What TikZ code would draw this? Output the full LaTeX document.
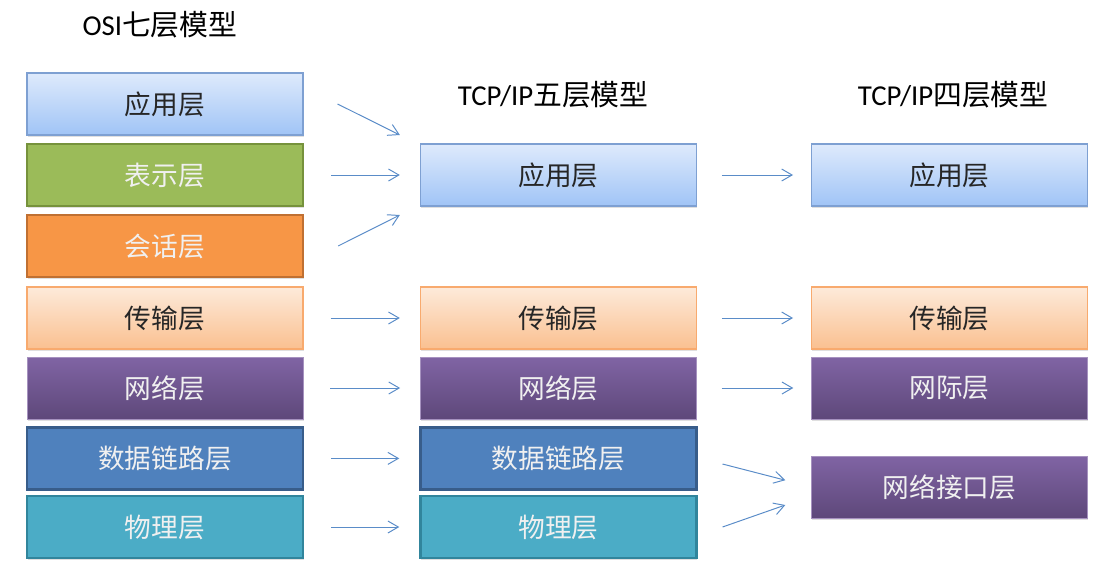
\documentclass[tikz,border=0pt]{standalone}
\usepackage{fontspec}
\setmainfont{Noto Sans CJK SC}
\newfontfamily\latinf{Carlito}
\usetikzlibrary{arrows.meta,positioning,calc,shadows}
\definecolor{appT}{RGB}{222,234,252}
\definecolor{appB}{RGB}{160,196,246}
\definecolor{appD}{RGB}{126,160,210}
\definecolor{preF}{RGB}{155,187,89}
\definecolor{preD}{RGB}{118,146,60}
\definecolor{sesF}{RGB}{247,150,70}
\definecolor{sesD}{RGB}{192,112,50}
\definecolor{traT}{RGB}{253,234,218}
\definecolor{traB}{RGB}{250,192,144}
\definecolor{traD}{RGB}{248,170,110}
\definecolor{netT}{RGB}{128,100,164}
\definecolor{netB}{RGB}{94,72,122}
\definecolor{dlkF}{RGB}{79,129,189}
\definecolor{dlkD}{RGB}{56,93,138}
\definecolor{phyF}{RGB}{75,172,198}
\definecolor{phyD}{RGB}{49,133,156}
\definecolor{arrC}{RGB}{90,140,200}

\begin{document}
\begin{tikzpicture}[>={Straight Barb[length=2.6mm,width=3mm]},
  layer/.style={rectangle, minimum width=6.9cm, minimum height=1.55cm, inner sep=0pt,
                font=\fontsize{19}{22}\selectfont, text=white!94!black,
                drop shadow={opacity=0.25, shadow xshift=0.6pt, shadow yshift=-1.2pt}},
  appl/.style={layer, draw=appD, line width=0.8pt, top color=appT, bottom color=appB, text=black!85},
  pres/.style={layer, draw=preD, line width=1.6pt, fill=preF},
  sess/.style={layer, draw=sesD, line width=1.6pt, fill=sesF},
  tran/.style={layer, draw=traD, line width=0.8pt, top color=traT, bottom color=traB, text=black!85},
  netw/.style={layer, draw=netT!70, line width=0.4pt, top color=netT, bottom color=netB},
  dlnk/.style={layer, draw=dlkD, line width=1.6pt, fill=dlkF},
  phys/.style={layer, draw=phyD, line width=1.6pt, fill=phyF},
  ttl/.style={font=\fontsize{20.5}{24}\selectfont, text=black},
  lnk/.style={->, arrC, line width=0.7pt}]
  \useasboundingbox (0,0) rectangle (27.8,-14.25);

  % titles
  \node[ttl] (t1) at (4.0,-0.62) {{\latinf OSI}七层模型};
  \node[ttl] (t2) at (13.83,-2.37) {{\latinf TCP/IP}五层模型};
  \node[ttl] (t3) at (23.83,-2.37) {{\latinf TCP/IP}四层模型};

  % OSI seven layers
  \node[appl] (a1) at (4.125,-2.6)   {应用层};
  \node[pres] (p1) at (4.125,-4.375) {表示层};
  \node[sess] (s1) at (4.125,-6.15)  {会话层};
  \node[tran] (r1) at (4.125,-7.95)  {传输层};
  \node[netw] (n1) at (4.125,-9.7)   {网络层};
  \node[dlnk] (d1) at (4.125,-11.46) {数据链路层};
  \node[phys] (h1) at (4.125,-13.175){物理层};

  % TCP/IP five layers
  \node[appl] (a2) at (13.96,-4.375) {应用层};
  \node[tran] (r2) at (13.96,-7.95)  {传输层};
  \node[netw] (n2) at (13.96,-9.7)   {网络层};
  \node[dlnk] (d2) at (13.96,-11.46) {数据链路层};
  \node[phys] (h2) at (13.96,-13.175){物理层};

  % TCP/IP four layers
  \node[appl] (a3) at (23.74,-4.375) {应用层};
  \node[tran] (r3) at (23.74,-7.95)  {传输层};
  \node[netw] (n3) at (23.74,-9.7)   {网际层};
  \node[netw] (i3) at (23.74,-12.175){网络接口层};

  % seven -> five
  \draw[lnk] ($(a1.east)+(0.85,0)$) -- ($(a2.west)+(-0.5,1.0)$);
  \draw[lnk] ($(p1.east)+(0.675,0)$) -- ($(a2.west)+(-0.5,0)$);
  \draw[lnk] ($(s1.east)+(0.85,0)$) -- ($(a2.west)+(-0.5,-1.0)$);
  \foreach \u/\v in {r1/r2, n1/n2, d1/d2, h1/h2}
    \draw[lnk] ($(\u.east)+(0.675,0)$) -- ($(\v.west)+(-0.5,0)$);

  % five -> four
  \foreach \u/\v in {a2/a3, r2/r3, n2/n3}
    \draw[lnk] ($(\u.east)+(0.625,0)$) -- ($(\v.west)+(-0.45,0)$);
  \draw[lnk] ($(d2.east)+(0.625,-0.14)$) -- ($(i3.west)+(-0.65,0.17)$);
  \draw[lnk] ($(h2.east)+(0.625,0)$) -- ($(i3.west)+(-0.65,-0.45)$);
\end{tikzpicture}
\end{document}
